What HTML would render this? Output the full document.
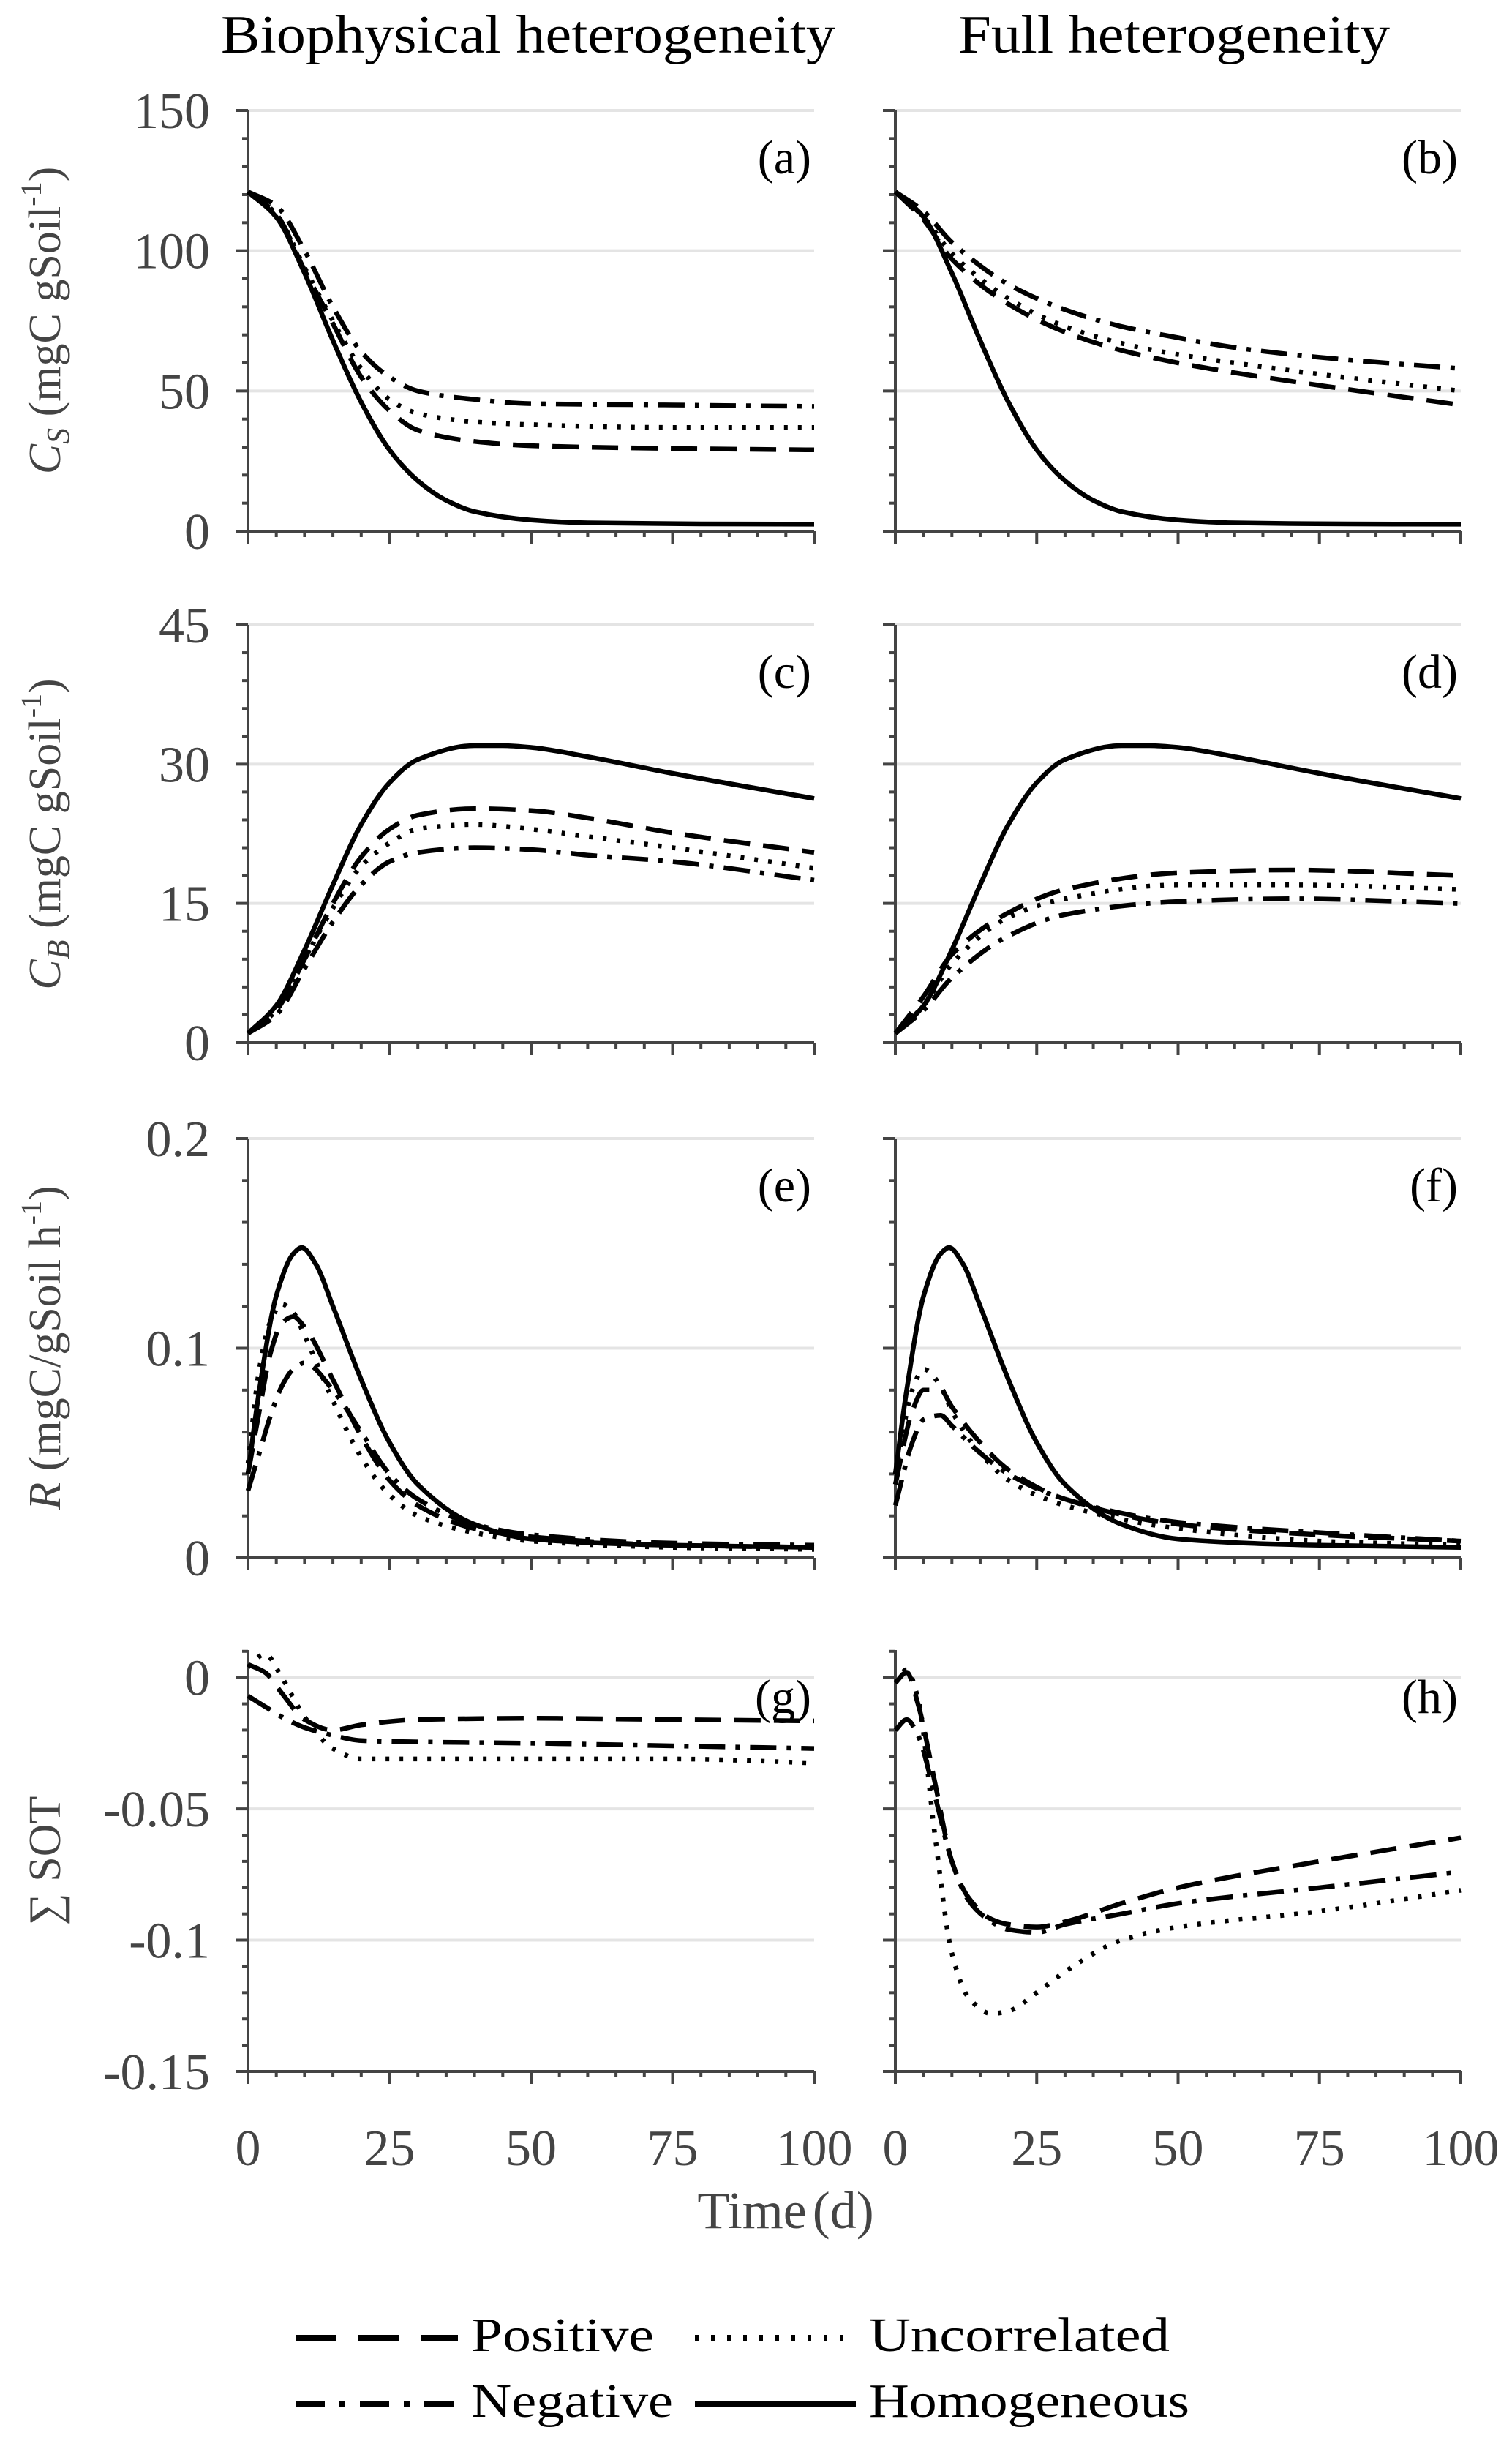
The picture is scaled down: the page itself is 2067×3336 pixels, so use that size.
<!DOCTYPE html>
<html><head><meta charset="utf-8">
<style>
html,body{margin:0;padding:0;background:#fff;}
svg{display:block;font-family:"Liberation Serif","DejaVu Serif",serif;}
text{font-family:"Liberation Serif","DejaVu Serif",serif;}
</style></head>
<body>
<svg id="chart" width="2067" height="3336" viewBox="0 0 2067 3336" xmlns="http://www.w3.org/2000/svg" font-family="Liberation Serif, serif">
<text x="722" y="72" font-size="74" text-anchor="middle" textLength="840" lengthAdjust="spacingAndGlyphs" fill="#000">Biophysical heterogeneity</text>
<text x="1605" y="72" font-size="74" text-anchor="middle" textLength="590" lengthAdjust="spacingAndGlyphs" fill="#000">Full heterogeneity</text>
<g id="panels"></g>
<text x="1074" y="3045" font-size="72" text-anchor="middle" fill="#444">Time<tspan dx="8">(d)</tspan></text>
<g>
 <line x1="404" y1="3195" x2="626" y2="3195" stroke="#000" stroke-width="8" stroke-dasharray="56 30"/>
 <text x="644" y="3213" font-size="66" textLength="250" lengthAdjust="spacingAndGlyphs">Positive</text>
 <line x1="950" y1="3195" x2="1153" y2="3195" stroke="#000" stroke-width="8" stroke-dasharray="5 17"/>
 <text x="1188" y="3213" font-size="66" textLength="411" lengthAdjust="spacingAndGlyphs">Uncorrelated</text>
 <line x1="404" y1="3285" x2="626" y2="3285" stroke="#000" stroke-width="8" stroke-dasharray="40 20 8 20"/>
 <text x="644" y="3303" font-size="66" textLength="276" lengthAdjust="spacingAndGlyphs">Negative</text>
 <line x1="950" y1="3285" x2="1170" y2="3285" stroke="#000" stroke-width="8"/>
 <text x="1188" y="3303" font-size="66" textLength="438" lengthAdjust="spacingAndGlyphs">Homogeneous</text>
</g>
</svg>
<script>
// ---- data ----
const csT = [0,5,10,15,20,25,30,35,40,50,60,80,100];
const csHom = [121,112,92,68,46,29,18,11,7,4,3,2.6,2.5];
const csAT = [0,5,10,15,20,25,30,40,50,75,100];
const csANeg = [121,116,100,80,64,55,50,47,45.5,45,44.5];
const csAUnc = [121,113,94,75,58,47,42,39,38,37,37];
const csAPos = [121,113,93,74,55,43,36,32,30.5,29.5,29];
const csBT = [0,5,10,20,30,40,50,60,75,100];
const csBNeg = [121,114,103,88,79,73,69,65.5,62,58];
const csBUnc = [121,112,99,83,73,67,63,60,56,50];
const csBPos = [121,111,97,81,71,64.5,60,56.5,52,45];

const cbHomT = [0,5,10,15,20,25,30,40,45,50,60,75,100];
const cbHom = [1,4,10,17,23.5,28,30.5,32,32,31.8,30.8,29,26.3];
const cbCT = [0,5,10,15,20,25,30,40,50,60,75,100];
const cbCPos = [1,3.5,9,15,20,23,24.5,25.2,25,24.2,22.6,20.5];
const cbCUnc = [1,3.5,9,14.5,19,21.5,23,23.5,23,22.2,21,18.8];
const cbCNeg = [1,3,8,13,17,19.5,20.5,21,20.8,20.2,19.5,17.5];
const cbDT = [0,5,10,20,30,50,70,100];
const cbDPos = [1,5,9.5,14,16.5,18.3,18.6,18];
const cbDUnc = [1,4,8.5,13.5,15.5,17,17,16.5];
const cbDNeg = [1,3.5,7,11.5,13.8,15.2,15.5,15];

const rHomT = [0,2,5,8,9.5,12,15,20,25,30,40,50,75,100];
const rHom = [0.04,0.08,0.125,0.145,0.148,0.14,0.12,0.085,0.055,0.035,0.016,0.009,0.006,0.005];
const rET = [0,2,4,6,8,10,15,20,25,30,40,50,75,100];
const rEUnc = [0.045,0.09,0.113,0.121,0.117,0.106,0.075,0.048,0.03,0.02,0.012,0.008,0.005,0.004];
const rEPos = [0.04,0.07,0.098,0.112,0.115,0.11,0.085,0.058,0.037,0.025,0.014,0.01,0.006,0.005];
const rENeg = [0.032,0.05,0.068,0.082,0.09,0.093,0.08,0.06,0.04,0.028,0.016,0.011,0.007,0.006];
const rFT = [0,3,5,8,10,15,20,30,50,75,100];
const rFUnc = [0.04,0.08,0.09,0.082,0.07,0.05,0.037,0.025,0.014,0.008,0.006];
const rFPos = [0.035,0.07,0.08,0.08,0.072,0.055,0.042,0.028,0.016,0.011,0.008];
const rFNeg = [0.025,0.055,0.066,0.068,0.063,0.05,0.04,0.028,0.017,0.012,0.008];

const sGT = [0,3,6,10,15,20,30,50,75,100];
const sGPos = [0.005,0.002,-0.006,-0.016,-0.02,-0.018,-0.016,-0.0155,-0.016,-0.0165];
const sGUnc = [0.004,0.009,0.0,-0.015,-0.027,-0.031,-0.031,-0.031,-0.031,-0.0325];
const sGNeg = [-0.007,-0.011,-0.015,-0.019,-0.022,-0.024,-0.0245,-0.025,-0.026,-0.027];
const sHT = [0,2,4,7,10,13,17,20,25,30,40,50,75,100];
const sHUnc = [-0.002,0.003,-0.008,-0.06,-0.105,-0.122,-0.128,-0.127,-0.12,-0.112,-0.1,-0.095,-0.089,-0.081];
const sHPos = [-0.002,0.002,-0.01,-0.04,-0.07,-0.084,-0.092,-0.094,-0.095,-0.093,-0.086,-0.08,-0.07,-0.061];
const sHNeg = [-0.02,-0.016,-0.022,-0.045,-0.07,-0.085,-0.093,-0.096,-0.097,-0.094,-0.09,-0.086,-0.08,-0.074];

const xTicks = [0,25,50,75,100];
const xTickLabels = ["0","25","50","75","100"];
const csTicks = [0,50,100,150], csTickLabels = ["0","50","100","150"];
const cbTicks = [0,15,30,45], cbTickLabels = ["0","15","30","45"];
const rTicks = [0,0.1,0.2], rTickLabels = ["0","0.1","0.2"];
const sTicks = [-0.15,-0.1,-0.05,0], sTickLabels = ["-0.15","-0.1","-0.05","0"];

// ---- layout ----
const NS = "http://www.w3.org/2000/svg";
const cols = [{x0:339,x1:1113},{x0:1224,x1:1997}];
const rows = [
 {top:151,bot:726,ymin:0,ymax:150,minor:10,ticks:csTicks,labels:csTickLabels},
 {top:854,bot:1425,ymin:0,ymax:45,minor:3,ticks:cbTicks,labels:cbTickLabels},
 {top:1556,bot:2129,ymin:0,ymax:0.2,minor:0.02,ticks:rTicks,labels:rTickLabels},
 {top:2255,bot:2831,ymin:-0.15,ymax:0.0105,minor:0.01,ticks:sTicks,labels:sTickLabels}
];
const styles = {pos:"36 18",unc:"5 14",neg:"36 14 6 14",hom:null};
const panels = [
 {r:0,c:0,tag:"(a)",series:[["hom",csT,csHom],["neg",csAT,csANeg],["unc",csAT,csAUnc],["pos",csAT,csAPos]]},
 {r:0,c:1,tag:"(b)",series:[["hom",csT,csHom],["neg",csBT,csBNeg],["unc",csBT,csBUnc],["pos",csBT,csBPos]]},
 {r:1,c:0,tag:"(c)",series:[["hom",cbHomT,cbHom],["pos",cbCT,cbCPos],["unc",cbCT,cbCUnc],["neg",cbCT,cbCNeg]]},
 {r:1,c:1,tag:"(d)",series:[["hom",cbHomT,cbHom],["pos",cbDT,cbDPos],["unc",cbDT,cbDUnc],["neg",cbDT,cbDNeg]]},
 {r:2,c:0,tag:"(e)",series:[["hom",rHomT,rHom],["unc",rET,rEUnc],["pos",rET,rEPos],["neg",rET,rENeg]]},
 {r:2,c:1,tag:"(f)",series:[["hom",rHomT,rHom],["unc",rFT,rFUnc],["pos",rFT,rFPos],["neg",rFT,rFNeg]]},
 {r:3,c:0,tag:"(g)",series:[["pos",sGT,sGPos],["unc",sGT,sGUnc],["neg",sGT,sGNeg]]},
 {r:3,c:1,tag:"(h)",series:[["pos",sHT,sHPos],["unc",sHT,sHUnc],["neg",sHT,sHNeg]]}
];
const root = document.getElementById("panels");
function mk(tag, attrs, parent){const e=document.createElementNS(NS,tag);for(const k in attrs)e.setAttribute(k,attrs[k]);(parent||root).appendChild(e);return e;}
// monotone cubic (Fritsch-Carlson) in screen coords
function smoothPath(pts){
 const n=pts.length, dx=[], m=[], t=[];
 for(let i=0;i<n-1;i++){dx.push(pts[i+1][0]-pts[i][0]);m.push((pts[i+1][1]-pts[i][1])/dx[i]);}
 t[0]=m[0]; t[n-1]=m[n-2];
 for(let i=1;i<n-1;i++){
  if(m[i-1]*m[i]<=0) t[i]=0;
  else { const w1=2*dx[i]+dx[i-1], w2=dx[i]+2*dx[i-1]; t[i]=(w1+w2)/(w1/m[i-1]+w2/m[i]); }
 }
 let d="M"+pts[0][0].toFixed(1)+","+pts[0][1].toFixed(1);
 for(let i=0;i<n-1;i++){
  const h=dx[i]/3;
  d+=" C"+(pts[i][0]+h).toFixed(1)+","+(pts[i][1]+t[i]*h).toFixed(1)+" "+(pts[i+1][0]-h).toFixed(1)+","+(pts[i+1][1]-t[i+1]*h).toFixed(1)+" "+pts[i+1][0].toFixed(1)+","+pts[i+1][1].toFixed(1);
 }
 return d;
}
panels.forEach(p=>{
 const R=rows[p.r],C=cols[p.c];
 const xs=v=>C.x0+(v/100)*(C.x1-C.x0);
 const ys=v=>R.bot-(v-R.ymin)/(R.ymax-R.ymin)*(R.bot-R.top);
 const g=mk("g",{});
 
 
 R.ticks.forEach(t=>{
  const l=mk("line",{x1:C.x0,x2:C.x1,y1:ys(t),y2:ys(t),stroke:"#e4e4e4","stroke-width":4},g);
  
  
 });
 const xa=mk("line",{x1:C.x0,x2:C.x1,y1:R.bot,y2:R.bot,stroke:"#444","stroke-width":4},g);
 
 
 for(let v=0;v<=100;v+=5){
  const major=v%25===0;
  const tk=mk("line",{x1:xs(v),x2:xs(v),y1:R.bot,y2:R.bot+(major?17:8),stroke:"#444","stroke-width":4},g);
  
  
 }
 if(p.r===3){
  xTicks.forEach((v,i)=>{
   const t=mk("text",{x:xs(v),y:R.bot+128,"font-size":70,"text-anchor":"middle",fill:"#444","font-family":"Liberation Serif, serif"},g);
   
   
   t.textContent=xTickLabels[i];
  });
 }
 const ya=mk("line",{x1:C.x0,x2:C.x0,y1:R.top,y2:R.bot,stroke:"#444","stroke-width":4},g);
 
 
 const n=Math.round((R.ymax-R.ymin)/R.minor);
 for(let k=0;k<=n+1;k++){
  const v=R.ymin+k*R.minor; if(v>R.ymax+1e-9)break;
  const major=R.ticks.some(t=>Math.abs(t-v)<1e-9);
  const tk=mk("line",{x1:C.x0-(major?17:8),x2:C.x0,y1:ys(v),y2:ys(v),stroke:"#444","stroke-width":4},g);
  
  
 }
 if(p.c===0){
  R.ticks.forEach((v,i)=>{
   const t=mk("text",{x:C.x0-52,y:ys(v)+24,"font-size":70,"text-anchor":"end",fill:"#444","font-family":"Liberation Serif, serif"},g);
   
   
   t.textContent=R.labels[i];
  });
 }
 p.series.forEach(s=>{
  const pts=s[1].map((t,i)=>[xs(t),ys(s[2][i])]);
  const a={d:smoothPath(pts),fill:"none",stroke:"#000","stroke-width":6.5,"stroke-linejoin":"round"};
  if(styles[s[0]])a["stroke-dasharray"]=styles[s[0]];
  const path=mk("path",a,g);
  
  
 });
 const tg=mk("text",{x:C.x1-4,y:R.top+86,"font-size":66,"text-anchor":"end",fill:"#000","font-family":"Liberation Serif, serif"},g);
 
 
 tg.textContent=p.tag;
});
const yTitles=[
 {cy:438,html:'<tspan font-style="italic">C</tspan><tspan font-style="italic" font-size="44" dy="12">S</tspan><tspan dy="-12"> (mgC  gSoil</tspan><tspan font-size="40" dy="-26">-1</tspan><tspan dy="26">)</tspan>'},
 {cy:1140,html:'<tspan font-style="italic">C</tspan><tspan font-style="italic" font-size="44" dy="12">B</tspan><tspan dy="-12"> (mgC  gSoil</tspan><tspan font-size="40" dy="-26">-1</tspan><tspan dy="26">)</tspan>'},
 {cy:1842,html:'<tspan font-style="italic">R</tspan><tspan> (mgC/gSoil h</tspan><tspan font-size="40" dy="-26">-1</tspan><tspan dy="26">)</tspan>'},
 {cy:2543,html:'∑ SOT'}
];
yTitles.forEach((t,i)=>{
 const el=mk("text",{x:0,y:0,"font-size":62,"text-anchor":"middle",fill:"#444","font-family":"Liberation Serif, serif",transform:"translate(82,"+t.cy+") rotate(-90)"});
 
 
 el.innerHTML=t.html;
});
</script>
</body></html>
